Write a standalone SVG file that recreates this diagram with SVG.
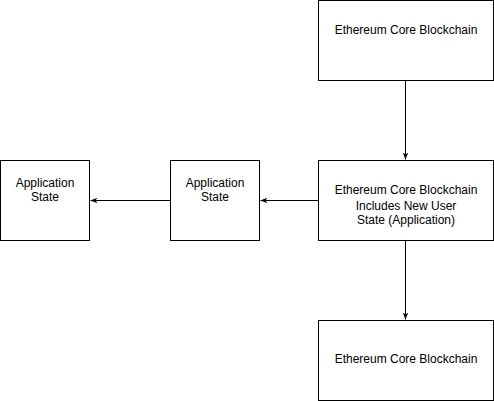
<svg xmlns="http://www.w3.org/2000/svg" width="494" height="401" viewBox="0 0 494 401">
<style>
.box{fill:#fff;stroke:#000;stroke-width:1}
.t{font-family:"Liberation Sans",Arial,sans-serif;font-size:12px;fill:#000;text-anchor:middle}
.c{fill:none;stroke:#000;stroke-width:1}
</style>
<defs>
<marker id="arr" viewBox="0 0 10 8" refX="10" refY="4" markerWidth="7" markerHeight="6" markerUnits="userSpaceOnUse" orient="auto">
<path d="M0,0 L10,4 L0,8 L3,4 Z" fill="#000"/>
</marker>
</defs>
<rect width="494" height="401" fill="#fff"/>
<g id="connectors">
<path class="c" d="M405.5,80.5 V159.5" marker-end="url(#arr)"/>
<path class="c" d="M405.5,240.5 V319.5" marker-end="url(#arr)"/>
<path class="c" d="M318.5,200.5 H260.5" marker-end="url(#arr)"/>
<path class="c" d="M170.5,200.5 H90.5" marker-end="url(#arr)"/>
</g>
<g id="core1">
<rect class="box" x="318.5" y="0.5" width="175" height="80"/>
<text class="t" x="406" y="34">Ethereum Core Blockchain</text>
</g>
<g id="core2">
<rect class="box" x="318.5" y="160.5" width="175" height="80"/>
<text class="t" x="406" y="194">Ethereum Core Blockchain</text>
<text class="t" x="406" y="210">Includes New User</text>
<text class="t" x="406" y="224">State (Application)</text>
</g>
<g id="core3">
<rect class="box" x="318.5" y="320.5" width="175" height="80"/>
<text class="t" x="406" y="363">Ethereum Core Blockchain</text>
</g>
<g id="app2">
<rect class="box" x="170.5" y="160.5" width="89" height="80"/>
<text class="t" x="215" y="187">Application</text>
<text class="t" x="215" y="201">State</text>
</g>
<g id="app1">
<rect class="box" x="0.5" y="160.5" width="89" height="80"/>
<text class="t" x="45" y="187">Application</text>
<text class="t" x="45" y="201">State</text>
</g>
</svg>
